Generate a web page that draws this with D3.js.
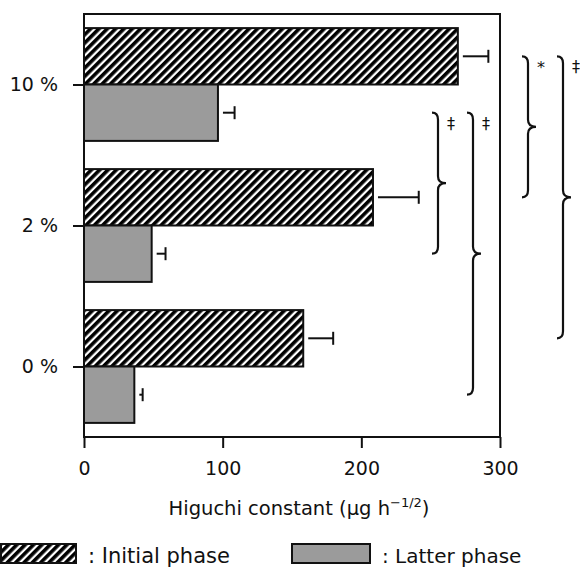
<!DOCTYPE html>
<html lang="en">
<head>
    <meta charset="utf-8" />
    <title>Higuchi constant</title>
    <script type="text/javascript" src="https://d3js.org/d3.v7.min.js"></script>
    <style>
        body { margin: 0; background: #fff; }
        text { font-family: "DejaVu Sans", sans-serif; fill: #111; }
    </style>
</head>
<body>
    <script type="text/javascript">

        var w = 580;
        var h = 571;

        // data
        var categories = ["10 %", "2 %", "0 %"];
        var initialMean = [269.6, 208.4, 158.1];
        var initialErr = [22, 33, 21.6];
        var latterMean = [96.6, 48.8, 36.3];
        var latterErr = [12, 10, 6];
        var xTicks = [0, 100, 200, 300];

        // significance braces: series, from category, to category, label
        var braces = [
            { series: "latter", from: "10 %", to: "2 %", label: "\u2021" },
            { series: "latter", from: "10 %", to: "0 %", label: "\u2021" },
            { series: "initial", from: "10 %", to: "2 %", label: "*" },
            { series: "initial", from: "10 %", to: "0 %", label: "\u2021" }
        ];
        var braceX = [432, 467, 522, 557];

        var mLeft = 84, mRight = 500, mTop = 14, mBottom = 437;

        var svg = d3.select("body")
            .append("svg")
            .attr("width", w)
            .attr("height", h);

        var defs = svg.append("defs");
        var pat = defs.append("pattern")
            .attr("id", "hatch")
            .attr("patternUnits", "userSpaceOnUse")
            .attr("width", 5.9)
            .attr("height", 5.9)
            .attr("patternTransform", "rotate(45)");
        pat.append("rect")
            .attr("width", 5.9).attr("height", 5.9)
            .attr("fill", "white");
        pat.append("rect")
            .attr("width", 3.6).attr("height", 5.9)
            .attr("fill", "black");

        var xScale = d3.scaleLinear()
            .domain([0, 300])
            .range([mLeft, mRight]);

        var yScale = d3.scaleBand()
            .domain(categories)
            .range([mTop, mBottom])
            .paddingInner(0.2)
            .paddingOuter(0.1);

        var bw = yScale.bandwidth();

        var rows = categories.map(function (c, i) {
            return [
                { cat: c, series: "initial", v: initialMean[i], e: initialErr[i] },
                { cat: c, series: "latter", v: latterMean[i], e: latterErr[i] }
            ];
        });
        var bars = [].concat.apply([], rows);

        function barTop(d) {
            return yScale(d.cat) + (d.series === "initial" ? 0 : bw / 2);
        }
        function barMid(series, cat) {
            return yScale(cat) + (series === "initial" ? bw / 4 : bw * 3 / 4);
        }

        // bars
        svg.selectAll("rect.bar")
            .data(bars)
            .enter()
            .append("rect")
            .attr("class", "bar")
            .attr("x", xScale(0))
            .attr("y", barTop)
            .attr("width", function (d) { return xScale(d.v) - xScale(0); })
            .attr("height", bw / 2)
            .attr("fill", function (d) {
                return d.series === "initial" ? "url(#hatch)" : "#9b9b9b";
            })
            .attr("stroke", "#111")
            .attr("stroke-width", 2);

        // error bars
        var eb = svg.selectAll("g.err")
            .data(bars)
            .enter()
            .append("g")
            .attr("class", "err")
            .attr("stroke", "#111")
            .attr("stroke-width", 2);
        eb.append("line")
            .attr("x1", function (d) { return xScale(d.v) + 5; })
            .attr("x2", function (d) { return xScale(d.v + d.e); })
            .attr("y1", function (d) { return barMid(d.series, d.cat); })
            .attr("y2", function (d) { return barMid(d.series, d.cat); });
        eb.append("line")
            .attr("x1", function (d) { return xScale(d.v + d.e); })
            .attr("x2", function (d) { return xScale(d.v + d.e); })
            .attr("y1", function (d) { return barMid(d.series, d.cat) - 6.5; })
            .attr("y2", function (d) { return barMid(d.series, d.cat) + 6.5; });

        // frame
        svg.append("rect")
            .attr("x", mLeft)
            .attr("y", mTop)
            .attr("width", mRight - mLeft)
            .attr("height", mBottom - mTop)
            .attr("fill", "none")
            .attr("stroke", "#111")
            .attr("stroke-width", 2);

        // x axis
        var xAxis = svg.append("g")
            .attr("transform", "translate(0," + mBottom + ")")
            .call(d3.axisBottom(xScale).tickValues(xTicks).tickSize(11).tickPadding(14).tickFormat(d3.format("d")));
        xAxis.select(".domain").remove();
        xAxis.selectAll("line").attr("stroke", "#111").attr("stroke-width", 2);
        xAxis.selectAll("text")
            .attr("font-size", "19px")
            .attr("font-family", "DejaVu Sans, sans-serif")
            .attr("fill", "#111");

        // y axis
        var yAxis = svg.append("g")
            .attr("transform", "translate(" + mLeft + ",0)")
            .call(d3.axisLeft(d3.scalePoint().domain(categories).range([yScale(categories[0]) + bw / 2, yScale(categories[2]) + bw / 2]))
                .tickSize(11).tickPadding(15));
        yAxis.select(".domain").remove();
        yAxis.selectAll("line").attr("stroke", "#111").attr("stroke-width", 2);
        yAxis.selectAll("text")
            .attr("font-size", "19px")
            .attr("font-family", "DejaVu Sans, sans-serif")
            .attr("fill", "#111");

        // axis title
        var title = svg.append("text")
            .attr("x", 299)
            .attr("y", 515)
            .attr("text-anchor", "middle")
            .attr("font-size", "19.5px");
        title.append("tspan").text("Higuchi constant (\u00b5g h");
        title.append("tspan").attr("dy", -8).attr("font-size", "13px").text("\u22121/2");
        title.append("tspan").attr("dy", 8).text(")");

        // braces
        function bracePath(x0, y0, y1) {
            var s = x0 + 6, t = x0 + 14, ym = (y0 + y1) / 2, r = 7;
            return "M" + x0 + "," + y0 +
                "Q" + s + "," + y0 + " " + s + "," + (y0 + r) +
                "L" + s + "," + (ym - r) +
                "Q" + s + "," + ym + " " + t + "," + ym +
                "Q" + s + "," + ym + " " + s + "," + (ym + r) +
                "L" + s + "," + (y1 - r) +
                "Q" + s + "," + y1 + " " + x0 + "," + y1;
        }

        var bg = svg.selectAll("g.brace")
            .data(braces)
            .enter()
            .append("g")
            .attr("class", "brace");
        bg.append("path")
            .attr("d", function (d, i) {
                return bracePath(braceX[i], barMid(d.series, d.from), barMid(d.series, d.to));
            })
            .attr("fill", "none")
            .attr("stroke", "#111")
            .attr("stroke-width", 2.2);
        bg.append("text")
            .attr("x", function (d, i) { return braceX[i] + 15; })
            .attr("y", function (d) { return barMid(d.series, d.from) + (d.label === "*" ? 17 : 16); })
            .attr("font-size", "16px")
            .text(function (d) { return d.label; });

        // legend
        var legend = [
            { label: ": Initial phase", fill: "url(#hatch)", x: 1, w: 75, size: 21 },
            { label: ": Latter phase", fill: "#9b9b9b", x: 292, w: 78, size: 20 }
        ];
        var lg = svg.selectAll("g.legend")
            .data(legend)
            .enter()
            .append("g")
            .attr("class", "legend");
        lg.append("rect")
            .attr("x", function (d) { return d.x; })
            .attr("y", 544)
            .attr("width", function (d) { return d.w; })
            .attr("height", 19)
            .attr("fill", function (d) { return d.fill; })
            .attr("stroke", "#111")
            .attr("stroke-width", 2);
        lg.append("text")
            .attr("x", function (d) { return d.x + d.w + 12; })
            .attr("y", 563)
            .attr("font-size", function (d) { return d.size + "px"; })
            .text(function (d) { return d.label; });

    </script>
</body>
</html>
